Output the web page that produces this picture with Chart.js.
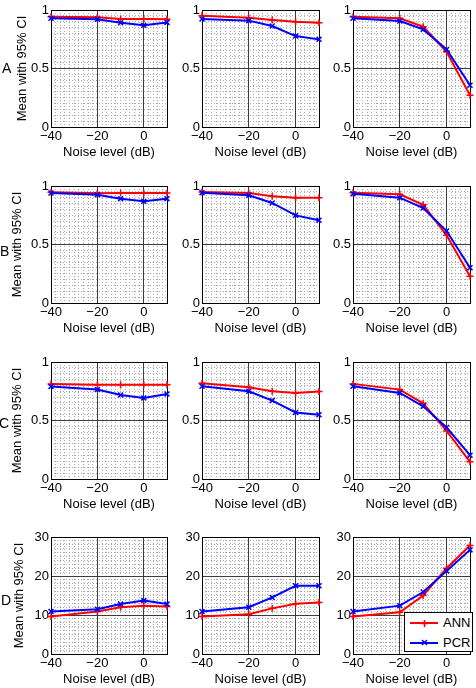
<!DOCTYPE html>
<html><head><meta charset="utf-8">
<script src="https://cdn.jsdelivr.net/npm/chart.js@4/dist/chart.umd.min.js"></script>
<style>
html,body{margin:0;padding:0;background:#fff;}
body{width:476px;height:688px;position:relative;overflow:hidden;font-family:"Liberation Sans",Arial,Helvetica,sans-serif;}
canvas.pane{position:absolute;}
.row-label{position:absolute;font-size:14px;line-height:14px;color:#000;z-index:2;}
#legend{position:absolute;box-sizing:border-box;border:1px solid #000;background:#fff;z-index:3;}
#legend .ln{position:absolute;height:2px;}
#legend svg{position:absolute;}
#legend .tx{position:absolute;font-size:13px;line-height:16px;color:#000;}
</style></head><body>
<script>
// ---- data ----
const noiseLevels = [-40, -20, -10, 0, 10];
const xTickValues = [-40, -20, 0, 10];
const xTickLabels = ['\u221240', '\u221220', '0', ''];
const yTickValuesFrac = [0, 0.5, 1];
const yTickLabelsFrac = ['0', '0.5', '1'];
const yTickValuesD = [0, 10, 20, 30];
const yTickLabelsD = ['0', '10', '20', '30'];
const rowLabels = ['A', 'B', 'C', 'D'];
const seriesNames = ['ANN', 'PCR'];
const seriesColors = ['#ff0000', '#0000ff'];
const yTitle = 'Mean with 95% CI';
const xTitle = 'Noise level (dB)';

const annA1 = [0.943, 0.937, 0.923, 0.923, 0.920];
const pcrA1 = [0.929, 0.920, 0.891, 0.869, 0.894];
const annA2 = [0.951, 0.934, 0.914, 0.900, 0.891];
const pcrA2 = [0.923, 0.909, 0.863, 0.777, 0.749];
const annA3 = [0.943, 0.929, 0.857, 0.643, 0.271];
const pcrA3 = [0.929, 0.906, 0.834, 0.663, 0.357];
const annB1 = [0.946, 0.937, 0.940, 0.940, 0.940];
const pcrB1 = [0.940, 0.926, 0.892, 0.869, 0.892];
const annB2 = [0.949, 0.940, 0.912, 0.900, 0.900];
const pcrB2 = [0.943, 0.920, 0.855, 0.749, 0.707];
const annB3 = [0.943, 0.929, 0.840, 0.578, 0.228];
const pcrB3 = [0.934, 0.900, 0.812, 0.615, 0.302];
const annC1 = [0.813, 0.805, 0.805, 0.805, 0.805];
const pcrC1 = [0.790, 0.764, 0.718, 0.693, 0.727];
const annC2 = [0.819, 0.784, 0.750, 0.736, 0.747];
const pcrC2 = [0.793, 0.750, 0.670, 0.569, 0.549];
const annC3 = [0.813, 0.764, 0.647, 0.411, 0.147];
const pcrC3 = [0.793, 0.736, 0.621, 0.440, 0.204];
const annD1 = [9.6, 10.9, 12.0, 12.4, 12.2];
const pcrD1 = [10.9, 11.5, 12.8, 13.7, 12.8];
const annD2 = [9.6, 10.2, 11.7, 12.9, 13.2];
const pcrD2 = [10.9, 12.0, 14.5, 17.5, 17.5];
const annD3 = [9.6, 10.7, 15.0, 22.0, 27.8];
const pcrD3 = [10.9, 12.4, 15.9, 21.3, 26.7];

const panels = [
  [[annA1, pcrA1], [annA2, pcrA2], [annA3, pcrA3]],
  [[annB1, pcrB1], [annB2, pcrB2], [annB3, pcrB3]],
  [[annC1, pcrC1], [annC2, pcrC2], [annC3, pcrC3]],
  [[annD1, pcrD1], [annD2, pcrD2], [annD3, pcrD3]]
];

// ---- layout ----
const colLeft = [51, 202, 353];
const colWidth = [116, 117, 117];
const rowTop = [10, 186, 362, 537];
const plotH = 117;
const padTop = 10, padRight = 6, xAxisH = 33;
const yTitlePad = [5, 0, 0, 2];
const rowLabelPos = [[2, 61], [0, 244], [-1, 416], [1, 593]];
const FONT = '"Liberation Sans", Arial, Helvetica, sans-serif';

function makePanel(r, c) {
  const [ann, pcr] = panels[r][c];
  const isD = r === 3;
  const yVals = isD ? yTickValuesD : yTickValuesFrac;
  const yLabs = isD ? yTickLabelsD : yTickLabelsFrac;
  const yMax = yVals[yVals.length - 1];
  const yW = c === 0 ? 41 : 30;
  const cv = document.createElement('canvas');
  cv.className = 'pane';
  const w = yW + colWidth[c] + padRight;
  const h = padTop + plotH + xAxisH;
  cv.width = w; cv.height = h;
  cv.style.width = w + 'px'; cv.style.height = h + 'px';
  cv.style.left = (colLeft[c] - yW) + 'px';
  cv.style.top = (rowTop[r] - padTop) + 'px';
  document.body.appendChild(cv);

  const mk = (vals) => noiseLevels.map((x, i) => ({x: x, y: vals[i]}));
  const tickFont = {family: FONT, size: 13};
  new Chart(cv, {
    type: 'line',
    data: {
      datasets: [
        {label: seriesNames[0], data: mk(ann), borderColor: seriesColors[0], backgroundColor: seriesColors[0],
         borderWidth: 2, pointStyle: 'cross', pointRadius: 3.5, pointBorderWidth: 1.5, clip: false,
         xAxisID: 'x', yAxisID: 'y', order: 1, tension: 0},
        {label: seriesNames[1], data: mk(pcr), borderColor: seriesColors[1], backgroundColor: seriesColors[1],
         borderWidth: 2, pointStyle: 'crossRot', pointRadius: 3.5, pointBorderWidth: 1.5, clip: false,
         xAxisID: 'x', yAxisID: 'y', order: 0, tension: 0}
      ]
    },
    options: {
      responsive: false, animation: false, devicePixelRatio: 1,
      layout: {padding: {top: padTop, right: padRight, left: 0, bottom: 0}},
      plugins: {legend: {display: false}, tooltip: {enabled: false}},
      scales: {
        xm: {type: 'linear', position: 'bottom', min: -40, max: 10, z: -1,
             ticks: {display: false, stepSize: 2},
             grid: {drawTicks: false, color: '#a8a8a8', lineWidth: 1},
             border: {display: false, dash: [1, 2]},
             afterFit: s => { s.height = 0; }},
        ym: {type: 'linear', position: 'left', min: 0, max: yMax, z: -1,
             ticks: {display: false, stepSize: isD ? 1 : 0.05},
             grid: {drawTicks: false, color: '#a8a8a8', lineWidth: 1},
             border: {display: false, dash: [1, 2]},
             afterFit: s => { s.width = 0; }},
        x: {type: 'linear', position: 'bottom', min: -40, max: 10,
            afterBuildTicks: s => { s.ticks = xTickValues.map(v => ({value: v})); },
            afterFit: s => { s.height = xAxisH; },
            ticks: {autoSkip: false, maxRotation: 0, padding: 2, color: '#000', font: tickFont,
                    callback: v => { const k = xTickValues.indexOf(v); return k >= 0 ? xTickLabels[k] : ''; }},
            grid: {drawTicks: false, lineWidth: 1,
                   color: ctx => (ctx.tick && (ctx.tick.value === 10 || ctx.tick.value === -40)) ? '#000' : '#3c3c3c'},
            border: {display: true, color: '#000', width: 1},
            title: {display: true, text: xTitle, color: '#000', font: tickFont, padding: {top: 0, bottom: 0}}},
        y: {type: 'linear', position: 'left', min: 0, max: yMax,
            afterBuildTicks: s => { s.ticks = yVals.map(v => ({value: v})); },
            afterFit: s => { s.width = yW; },
            ticks: {autoSkip: false, padding: 2, color: '#000', font: tickFont,
                    callback: v => { const k = yVals.indexOf(v); return k >= 0 ? yLabs[k] : ''; }},
            grid: {drawTicks: false, lineWidth: 1,
                   color: ctx => (ctx.tick && (ctx.tick.value === yMax || ctx.tick.value === 0)) ? '#000' : '#3c3c3c'},
            border: {display: true, color: '#000', width: 1},
            title: {display: c === 0, text: yTitle, color: '#000', font: tickFont, padding: {top: yTitlePad[r], bottom: 0}}}
      }
    }
  });
}

for (let r = 0; r < 4; r++) for (let c = 0; c < 3; c++) makePanel(r, c);

rowLabels.forEach((t, r) => {
  const d = document.createElement('div');
  d.className = 'row-label';
  d.textContent = t;
  d.style.left = rowLabelPos[r][0] + 'px';
  d.style.top = rowLabelPos[r][1] + 'px';
  document.body.appendChild(d);
});

// legend inside panel D3
const lg = document.createElement('div');
lg.id = 'legend';
lg.style.left = '404px'; lg.style.top = '612px'; lg.style.width = '69px'; lg.style.height = '40px';
seriesNames.forEach((name, i) => {
  const cy = 10 + i * 19.5;
  const ln = document.createElement('div');
  ln.className = 'ln';
  ln.style.left = '5px'; ln.style.width = '28px'; ln.style.top = (cy - 1) + 'px';
  ln.style.background = seriesColors[i];
  lg.appendChild(ln);
  const svgNS = 'http://www.w3.org/2000/svg';
  const sv = document.createElementNS(svgNS, 'svg');
  sv.setAttribute('width', '9'); sv.setAttribute('height', '9');
  sv.style.left = (19 - 4.5) + 'px'; sv.style.top = (cy - 4.5) + 'px';
  const segs = i === 0 ? [[4.5, 1, 4.5, 8], [1, 4.5, 8, 4.5]] : [[2, 2, 7, 7], [2, 7, 7, 2]];
  segs.forEach(s => {
    const l = document.createElementNS(svgNS, 'line');
    l.setAttribute('x1', s[0]); l.setAttribute('y1', s[1]); l.setAttribute('x2', s[2]); l.setAttribute('y2', s[3]);
    l.setAttribute('stroke', seriesColors[i]); l.setAttribute('stroke-width', '1.5');
    sv.appendChild(l);
  });
  lg.appendChild(sv);
  const tx = document.createElement('div');
  tx.className = 'tx';
  tx.textContent = name;
  tx.style.left = '38px'; tx.style.top = (cy - 8) + 'px';
  lg.appendChild(tx);
});
document.body.appendChild(lg);
</script>
</body></html>
